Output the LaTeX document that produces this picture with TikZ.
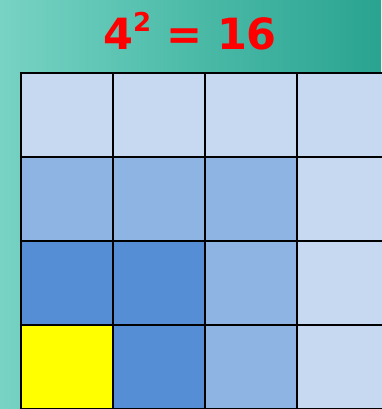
\documentclass[tikz,border=0pt]{standalone}
\usepackage{fontspec}
\setmainfont{DejaVu Sans}
\definecolor{bgL}{HTML}{78D3C4}
\definecolor{bgM}{HTML}{4CBBA8}
\definecolor{bgR}{HTML}{2AA391}
\definecolor{cA}{HTML}{C6D9F1}
\definecolor{cB}{HTML}{8DB4E3}
\definecolor{cC}{HTML}{558ED5}
\definecolor{cY}{HTML}{FFFF00}
\definecolor{titleRed}{HTML}{FF0000}
\tikzset{cell/.style={draw=black,line width=3pt}}
\begin{document}
\begin{tikzpicture}[x=1pt,y=-1pt]
\useasboundingbox (0,0) rectangle (381,409);
\shade[left color=bgL, right color=bgR, middle color=bgM] (0,0) rectangle (381,409);
\node[text=titleRed, font=\bfseries\fontsize{43}{43}\selectfont, inner sep=0pt] (title) at (190,31) {4\raisebox{0.42em}{\fontsize{26}{26}\selectfont 2} = 16};
% columns x: 21,113,205,297,389 ; rows y: 73,157,241,325,409
\foreach \c [count=\i from 0] in {cA,cA,cA,cA}{\fill[\c] (21+92*\i,73) rectangle ++(92,84);}
\foreach \c [count=\i from 0] in {cB,cB,cB,cA}{\fill[\c] (21+92*\i,157) rectangle ++(92,84);}
\foreach \c [count=\i from 0] in {cC,cC,cB,cA}{\fill[\c] (21+92*\i,241) rectangle ++(92,84);}
\foreach \c [count=\i from 0] in {cY,cC,cB,cA}{\fill[\c] (21+92*\i,325) rectangle ++(92,84);}
\foreach \i in {0,...,4}{\draw[line width=2.6pt] (21+92*\i,73) -- (21+92*\i,411);}
\foreach \j in {0,...,4}{\draw[line width=2.6pt] (19.7,73+84*\j) -- (392,73+84*\j);}
\end{tikzpicture}
\end{document}
